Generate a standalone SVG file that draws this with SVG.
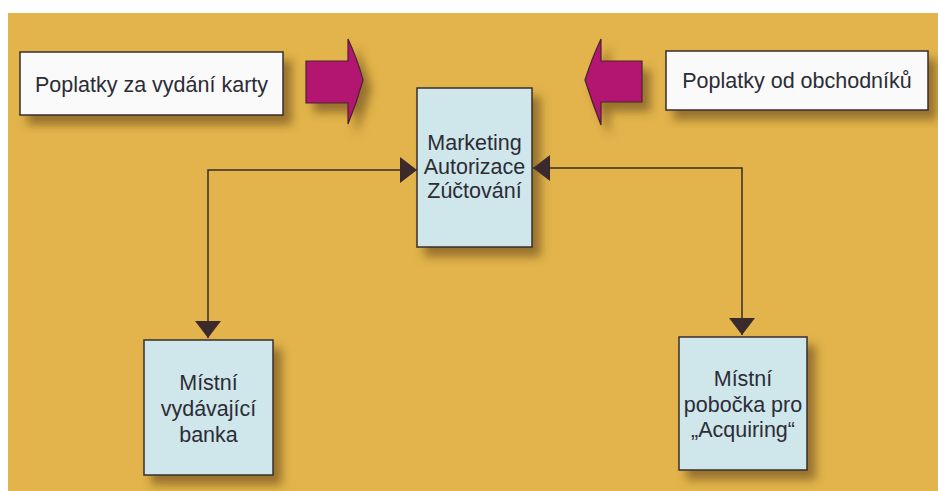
<svg xmlns="http://www.w3.org/2000/svg" width="938" height="491" viewBox="0 0 938 491">
<defs>
<filter id="sh" x="-20%" y="-20%" width="150%" height="150%">
<feDropShadow dx="8" dy="9" stdDeviation="5" flood-color="#5a3a10" flood-opacity="0.55"/>
</filter>
<marker id="ah" viewBox="0 0 17 26" refX="17" refY="13" markerWidth="17" markerHeight="26" markerUnits="userSpaceOnUse" orient="auto-start-reverse">
<path d="M0,0 L17,13 L0,26 Z" fill="#3a2a2c"/>
</marker>
<style>
.box{stroke:#3a2c2c;stroke-width:1.5}
.white{fill:#fbfafa}
.blue{fill:#cfe6ea}
.t{font-family:"Liberation Sans",Arial,sans-serif;font-size:21.5px;fill:#2c2c36;text-anchor:middle}
.fat{fill:#b3186f;stroke:#4a2030;stroke-width:1.2}
.conn{fill:none;stroke:#3a2a2c;stroke-width:1.5}
</style>
</defs>
<rect x="0" y="0" width="938" height="491" fill="#ffffff"/>
<rect x="8" y="13" width="930" height="478" fill="#e2b44b"/>

<g id="fee-card">
<rect class="box white" x="20" y="52" width="263" height="63" filter="url(#sh)"/>
<text class="t" x="151.5" y="92">Poplatky za vydání karty</text>
</g>
<g id="arrow-right">
<path class="fat" d="M306,61 L348,61 L348,39 Q357,58 363,80 Q357,102 348,124 L348,103 L306,103 Z" filter="url(#sh)"/>
</g>
<g id="arrow-left">
<path class="fat" d="M642,61 L601,61 L601,39 Q592,58 585,80 Q592,102 601,125 L601,102 L642,102 Z" filter="url(#sh)"/>
</g>
<g id="fee-merchant">
<rect class="box white" x="666" y="51" width="262" height="59" filter="url(#sh)"/>
<text class="t" x="797" y="88">Poplatky od obchodníků</text>
</g>
<g id="center">
<rect class="box blue" x="417" y="88" width="115" height="159" filter="url(#sh)"/>
<text class="t" x="474.5" y="150">Marketing</text>
<text class="t" x="474.5" y="174">Autorizace</text>
<text class="t" x="474.5" y="198">Zúčtování</text>
</g>
<g id="issuer">
<rect class="box blue" x="144" y="340" width="129" height="135" filter="url(#sh)"/>
<text class="t" x="208.5" y="390">Místní</text>
<text class="t" x="208.5" y="416">vydávající</text>
<text class="t" x="208.5" y="442">banka</text>
</g>
<g id="acquirer">
<rect class="box blue" x="679" y="337" width="128" height="133" filter="url(#sh)"/>
<text class="t" x="743" y="386">Místní</text>
<text class="t" x="743" y="412">pobočka pro</text>
<text class="t" x="743" y="437">„Acquiring“</text>
</g>
<g id="connectors">
<path class="conn" d="M417,170 L208,170 L208,338" marker-start="url(#ah)" marker-end="url(#ah)"/>
<path class="conn" d="M533,168 L742,168 L742,335" marker-start="url(#ah)" marker-end="url(#ah)"/>
</g>
</svg>
